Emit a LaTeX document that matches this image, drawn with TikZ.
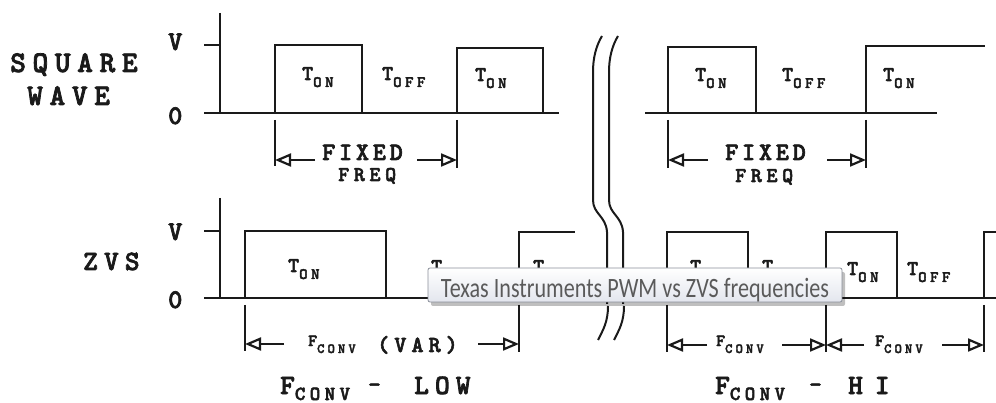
\documentclass[tikz,border=0pt]{standalone}
\usepackage{fontspec}
\newfontfamily\dm[LetterSpace=22,FakeBold=2.5]{lmmonolt10-bold.otf}
\newfontfamily\dmt[LetterSpace=15,FakeBold=2.5]{lmmonolt10-bold.otf}
\newfontfamily\tipfont{Carlito}
\usetikzlibrary{arrows.meta,shadows}
\definecolor{ink}{HTML}{1A1A1A}
\definecolor{tipgray}{HTML}{5A5A5A}
\definecolor{tipedge}{HTML}{8A8F99}
\definecolor{tipbot}{HTML}{E3E6EE}
\newcommand\fsz[1]{\fontsize{#1pt}{#1pt}\selectfont}
\newcommand\tsub[2]{{\fsz{21}#1}\raisebox{-7pt}{\fsz{16}#2}}
\newcommand\fsub[2]{{\fsz{17}#1}\raisebox{-7pt}{\smash{\fsz{14}#2}}}
\begin{document}
\begin{tikzpicture}[x=1pt,y=-1pt,
  wave/.style={line width=2.2pt, draw=ink, line join=miter},
  ext/.style={line width=1.8pt, draw=ink},
  dimarr/.style={line width=1.9pt, draw=ink, -{Triangle[open, length=16pt, width=13pt, line width=2.2pt]}},
  lab/.style={inner sep=0pt, anchor=base west, text=ink, font=\dm},
  bigl/.style={lab, font=\dm\fsz{30}},
  axl/.style={lab, font=\dmt\fsz{27}},
  tl/.style={lab, font=\dm},
  fixl/.style={lab, font=\dmt\fsz{25}},
  freql/.style={lab, font=\dm\fsz{21}},
  brk/.style={line width=2pt, draw=ink},
]
\useasboundingbox (0,0) rectangle (996,403);
\clip (0,0) rectangle (996,403);

% ---------- left labels ----------
\node[bigl] (sq) at (10,72) {SQUARE};
\node[bigl] (wv) at (27,105) {WAVE};
\node[lab, font=\dm\fsz{28}] (zvs) at (83,270) {ZVS};
\node[axl] (v1) at (168,50) {V};
\node[axl] (z1) at (168,124) {0};
\node[axl] (v2) at (168,240) {V};
\node[axl] (z2) at (168,308) {0};

% ---------- top waveforms ----------
\draw[wave] (220,13) -- (220,113);
\draw[wave] (204,45) -- (220,45);
\draw[wave] (204,113) -- (559,113);
\draw[wave] (275,113) -- (275,45) -- (362,45) -- (362,113);
\draw[wave] (457,113) -- (457,48) -- (543,48) -- (543,113);
\draw[wave] (645,113) -- (937,113);
\draw[wave] (668,113) -- (668,47) -- (756,47) -- (756,113);
\draw[wave] (866,113) -- (866,46) -- (985,46);

\node[tl] (t1) at (302,80) {\tsub{T}{ON}};
\node[tl] (t2) at (382,80) {\tsub{T}{OFF}};
\node[tl] (t3) at (475,81) {\tsub{T}{ON}};
\node[tl] (t4) at (695,81) {\tsub{T}{ON}};
\node[tl] (t5) at (782,81) {\tsub{T}{OFF}};
\node[tl] (t6) at (883,81) {\tsub{T}{ON}};

% top dimensions
\coordinate (e1a) at (275,120); \coordinate (e1b) at (275,166);
\coordinate (e2a) at (457,120); \coordinate (e2b) at (457,168);
\coordinate (e3a) at (668,120); \coordinate (e3b) at (668,168);
\coordinate (e4a) at (866,120); \coordinate (e4b) at (866,168);
\draw[ext] (e1a) -- (e1b);
\draw[ext] (e2a) -- (e2b);
\draw[ext] (e3a) -- (e3b);
\draw[ext] (e4a) -- (e4b);
\coordinate (a1s) at (315,160); \coordinate (a1t) at (275,160);
\coordinate (a2s) at (417,160); \coordinate (a2t) at (457,160);
\coordinate (a3s) at (708,160); \coordinate (a3t) at (668,160);
\coordinate (a4s) at (827,160); \coordinate (a4t) at (866,160);
\draw[dimarr] (a1s) -- (a1t);
\draw[dimarr] (a2s) -- (a2t);
\draw[dimarr] (a3s) -- (a3t);
\draw[dimarr] (a4s) -- (a4t);
\node[fixl] (fx1) at (322,160) {FIXED};
\node[freql] (fq1) at (338,181) {FREQ};
\node[fixl] (fx2) at (725,160) {FIXED};
\node[freql] (fq2) at (735,182) {FREQ};

% ---------- bottom waveforms ----------
\draw[wave] (220,198) -- (220,298);
\draw[wave] (204,231) -- (220,231);
\draw[wave] (204,298) -- (580,298);
\draw[wave] (245,298) -- (245,231) -- (386,231) -- (386,298);
\draw[wave] (519,298) -- (519,232) -- (575,232);
\draw[wave] (645,298) -- (1000,298);
\draw[wave] (667,298) -- (667,232) -- (748,232) -- (748,298);
\draw[wave] (826,298) -- (826,232) -- (897,232) -- (897,298);
\draw[wave] (984,298) -- (984,232) -- (1000,232);

\node[tl] (b1) at (288,272) {\tsub{T}{ON}};
\node[tl] (b2) at (431,273) {\tsub{T}{OFF}};
\node[tl] (b3) at (533,273) {\tsub{T}{ON}};
\node[tl] (b4) at (690,273) {\tsub{T}{ON}};
\node[tl] (b5) at (762,273) {\tsub{T}{OFF}};
\node[tl] (b6) at (847,275) {\tsub{T}{ON}};
\node[tl] (b7) at (907,275) {\tsub{T}{OFF}};

% bottom dimensions
\coordinate (f1a) at (245,305); \coordinate (f1b) at (245,351);
\coordinate (f2a) at (519,305); \coordinate (f2b) at (519,352);
\coordinate (f3a) at (667,305); \coordinate (f3b) at (667,352);
\coordinate (f4a) at (826,305); \coordinate (f4b) at (826,352);
\coordinate (f5a) at (984,305); \coordinate (f5b) at (984,352);
\draw[ext] (f1a) -- (f1b);
\draw[ext] (f2a) -- (f2b);
\draw[ext] (f3a) -- (f3b);
\draw[ext] (f4a) -- (f4b);
\draw[ext] (f5a) -- (f5b);
\coordinate (c1s) at (284,344); \coordinate (c1t) at (245,344);
\coordinate (c2s) at (478,344); \coordinate (c2t) at (519,344);
\coordinate (c3s) at (707,345); \coordinate (c3t) at (667,345);
\coordinate (c4s) at (782,345); \coordinate (c4t) at (826,345);
\coordinate (c5s) at (864,345); \coordinate (c5t) at (826,345);
\coordinate (c6s) at (942,345); \coordinate (c6t) at (984,345);
\draw[dimarr] (c1s) -- (c1t);
\draw[dimarr] (c2s) -- (c2t);
\draw[dimarr] (c3s) -- (c3t);
\draw[dimarr] (c4s) -- (c4t);
\draw[dimarr] (c5s) -- (c5t);
\draw[dimarr] (c6s) -- (c6t);
\node[tl] (fc1) at (308,346) {\fsub{F}{CONV}};
\node[lab, font=\dm\fsz{23}] (var) at (377,352) {(VAR)};
\node[tl] (fc2) at (716,346) {\fsub{F}{CONV}};
\node[tl] (fc3) at (875,346) {\fsub{F}{CONV}};

\node[lab] (lo1) at (280,394) {{\fsz{28}F}\raisebox{-6pt}{\smash{\fsz{20}CONV}}};
\node[lab, font=\dm\fsz{24}] (lo2) at (368,392) {-};
\node[lab, font=\dm\fsz{28}] (lo3) at (414,394) {LOW};
\node[lab] (hi1) at (715,394) {{\fsz{28}F}\raisebox{-6pt}{\smash{\fsz{20}CONV}}};
\node[lab, font=\dm\fsz{24}] (hi2) at (809,392) {-};
\node[lab, font=\dm\fsz{28}] (hi3) at (848,394) {H\kern12pt I};

% ---------- break marks ----------
\foreach \dx in {0,16}{
  \draw[brk] (602+\dx,36) .. controls (596+\dx,46) and (593+\dx,58) .. (593+\dx,72)
     -- (593+\dx,200) .. controls (593+\dx,214) and (606+\dx,216) .. (607+\dx,232)
     -- (607+\dx,304);
  \draw[brk] (608+\dx,306) .. controls (608+\dx,322) and (603+\dx,330) .. (598+\dx,340);
}

% ---------- tooltip ----------
\node[draw=tipedge, line width=0.8pt, rounded corners=2pt,
      top color=white, bottom color=tipbot,
      minimum width=414pt, minimum height=34pt, inner sep=0pt,
      drop shadow={shadow xshift=3pt, shadow yshift=-4pt, opacity=0.25, fill=black}]
      (tip) at (635,285) {};
\node[inner sep=0pt, anchor=base, text=tipgray, font=\tipfont\fsz{28}] (tiptext) at (635,298)
      {\scalebox{0.79}[1]{Texas Instruments PWM vs ZVS frequencies}};
\end{tikzpicture}
\end{document}
